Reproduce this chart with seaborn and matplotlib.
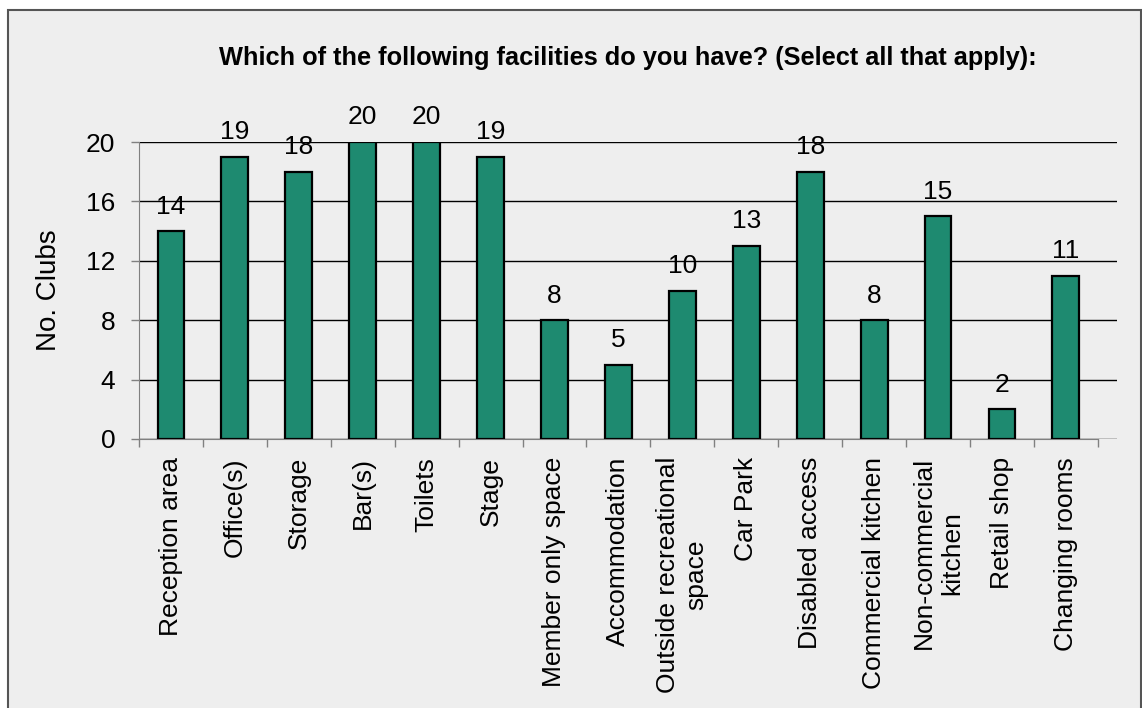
import matplotlib
matplotlib.use("Agg")
import matplotlib.pyplot as plt
import seaborn as sns
import pandas as pd
from matplotlib.patches import Rectangle
from matplotlib.ticker import FixedLocator

facilities = ["Reception area", "Office(s)", "Storage", "Bar(s)", "Toilets", "Stage",
              "Member only space", "Accommodation", "Outside recreational\nspace",
              "Car Park", "Disabled access", "Commercial kitchen",
              "Non-commercial\nkitchen", "Retail shop", "Changing rooms"]
clubs = [14, 19, 18, 20, 20, 19, 8, 5, 10, 13, 18, 8, 15, 2, 11]
y_ticks = [0, 4, 8, 12, 16, 20]

title = "Which of the following facilities do you have? (Select all that apply):"

sns.set_style("white")
plt.rcParams["font.family"] = ["Liberation Sans", "DejaVu Sans"]
plt.rcParams["text.color"] = "black"
plt.rcParams["axes.labelcolor"] = "black"
plt.rcParams["xtick.color"] = "black"
plt.rcParams["ytick.color"] = "black"

df = pd.DataFrame({"facility": facilities, "clubs": clubs})

fig = plt.figure(figsize=(11.42, 7.08), dpi=100, facecolor="white")
# grey chart area with a dark frame, like the spreadsheet export
fig.patches.append(Rectangle((8 / 1142, -0.01), 1133 / 1142, 1 - 10 / 708 + 0.01,
                             transform=fig.transFigure, facecolor="#eeeeee",
                             edgecolor="#555555", linewidth=1.5, zorder=-10))

ax = fig.add_axes([139 / 1142, 1 - 439 / 708, (1117 - 139) / 1142, (439 - 142) / 708])
ax.set_facecolor("none")

sns.barplot(data=df, x="facility", y="clubs", color="#1e8a70", saturation=1,
            width=0.42, edgecolor="black", linewidth=1.6, ax=ax, zorder=3)

for i, v in enumerate(clubs):
    ax.annotate(str(v), (i, v), xytext=(0, 9), textcoords="offset points",
                ha="center", va="bottom", fontsize=19)

ax.set_ylim(0, 20)
ax.set_xlim(-0.5, 14.8)
ax.set_yticks(y_ticks)
ax.yaxis.grid(True, color="black", linewidth=1)
ax.set_axisbelow(True)

ax.spines["top"].set_visible(False)
ax.spines["right"].set_visible(False)
ax.spines["left"].set_color("#808080")
ax.spines["bottom"].set_color("#808080")
ax.spines["bottom"].set_bounds(-0.5, 14.5)

ax.tick_params(axis="y", which="major", length=6, width=1, color="#808080",
               labelsize=19, pad=11, left=True)
ax.tick_params(axis="x", which="major", length=0, labelsize=19, pad=13)
ax.xaxis.set_minor_locator(FixedLocator([i + 0.5 for i in range(-1, 15)]))
ax.tick_params(axis="x", which="minor", length=6, width=1, color="#808080",
               bottom=True, direction="out")
ax.set_xticks(range(len(facilities)))
ax.set_xticklabels(facilities, rotation=90, ha="center", va="top",
                   multialignment="center")

ax.set_xlabel("")
ax.set_ylabel("No. Clubs", fontsize=20)
ax.yaxis.set_label_coords(-0.079, 0.5)

fig.text(628 / 1142, 1 - 65 / 708, title, ha="center", va="baseline",
         fontsize=18.3, fontweight="bold")

fig.savefig("out.png", dpi=100)
